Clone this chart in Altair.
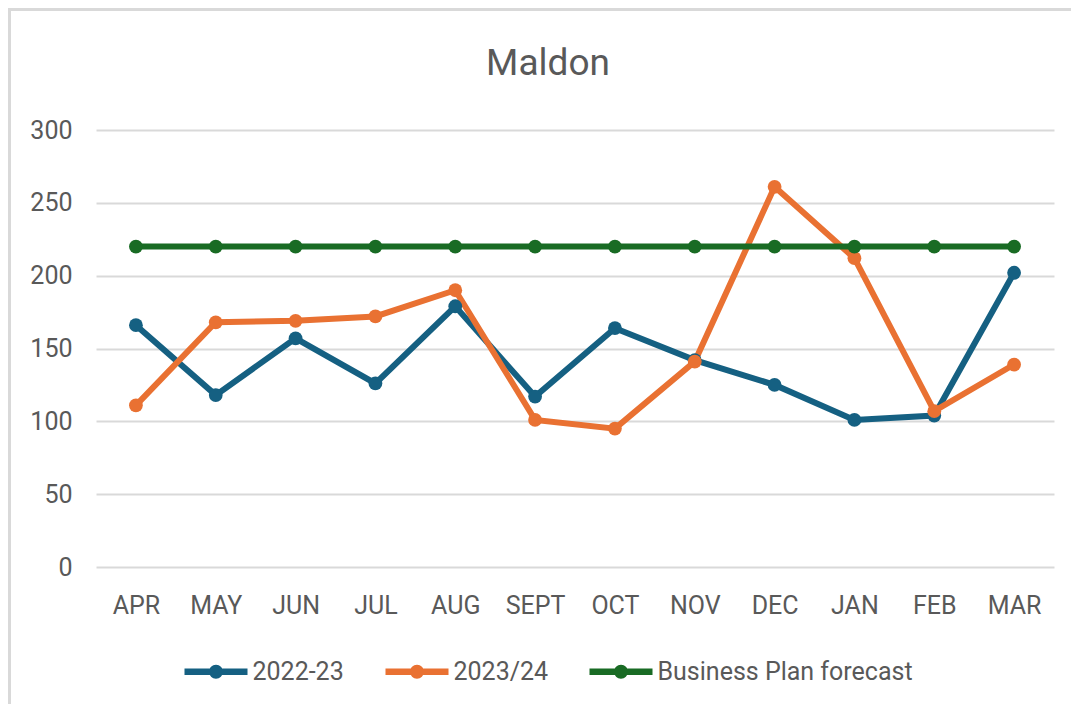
import altair as alt
import pandas as pd

months = ["APR", "MAY", "JUN", "JUL", "AUG", "SEPT", "OCT", "NOV", "DEC", "JAN", "FEB", "MAR"]
series_names = ["2022-23", "2023/24", "Business Plan forecast"]
vals_2022 = [166, 118, 157, 126, 179, 117, 164, 142, 125, 101, 104, 202]
vals_2023 = [111, 168, 169, 172, 190, 101, 95, 141, 261, 212, 107, 139]
vals_plan = [220] * 12
colors = ["#156082", "#E97132", "#196B24"]
y_ticks = [0, 50, 100, 150, 200, 250, 300]

rows = []
for name, vals in zip(series_names, [vals_2022, vals_2023, vals_plan]):
    for m, v in zip(months, vals):
        rows.append({"month": m, "value": v, "series": name})
df = pd.DataFrame(rows)

FONT = "Roboto"
GREY = "#595959"

x_enc = alt.X("month:N", sort=months, scale=alt.Scale(type="point", padding=0.5),
              axis=alt.Axis(title=None, labelFont=FONT, labelFontSize=25, labelColor=GREY,
                            ticks=False, domain=False, labelPadding=26, labelAngle=0, grid=False))
y_enc = alt.Y("value:Q", scale=alt.Scale(domain=[0, 300], nice=False, zero=True),
              axis=alt.Axis(title=None, values=y_ticks, labelFont=FONT, labelFontSize=25,
                            labelColor=GREY, ticks=False, domain=False, labelPadding=24,
                            gridColor="#d9d9d9", gridWidth=2))
color_scale = alt.Scale(domain=series_names, range=colors)

legend_symbol = ("M-1,-0.1 L1,-0.1 L1,0.1 L-1,0.1 Z "
                 "M0.22,0 A0.22,0.22 0 1,1 -0.22,0 A0.22,0.22 0 1,1 0.22,0 Z")
legend = alt.Legend(orient="none", legendX=88.5, legendY=510,
                    direction="horizontal", title=None,
                    symbolType=legend_symbol, symbolSize=3969,
                    symbolStrokeWidth=0, symbolOpacity=1,
                    labelFont=FONT, labelFontSize=25, labelColor=GREY,
                    labelOffset=5, columnPadding=41, padding=0,
                    labelLimit=400)

lines = alt.Chart(df).mark_line(strokeWidth=6).encode(
    x=x_enc, y=y_enc,
    color=alt.Color("series:N", scale=color_scale, legend=legend),
)
points = alt.Chart(df).mark_point(filled=True, opacity=1, size=190).encode(
    x=x_enc, y=y_enc,
    color=alt.Color("series:N", scale=color_scale, legend=legend),
)
border = alt.Chart(pd.DataFrame({"a": [0]})).mark_rect(
    fill=None, stroke="#d9d9d9", strokeWidth=3
).encode(x=alt.value(-86.5), x2=alt.value(1200), y=alt.value(-120.5), y2=alt.value(800))

chart = alt.layer(border, lines, points).properties(
    width=958, height=437,
    padding={"left": 88, "top": 122, "right": 17, "bottom": 137},
    autosize=alt.AutoSizeParams(type="none"),
    title=alt.Title("Maldon", fontSize=37, font=FONT, color=GREY, fontWeight="normal",
                    anchor="middle", frame="group", baseline="alphabetic", offset=0,
                    dx=-27, dy=103.5),
).configure(background="white").configure_view(stroke=None)

chart.save("out.html", embed_options={"renderer": "svg", "actions": False})
